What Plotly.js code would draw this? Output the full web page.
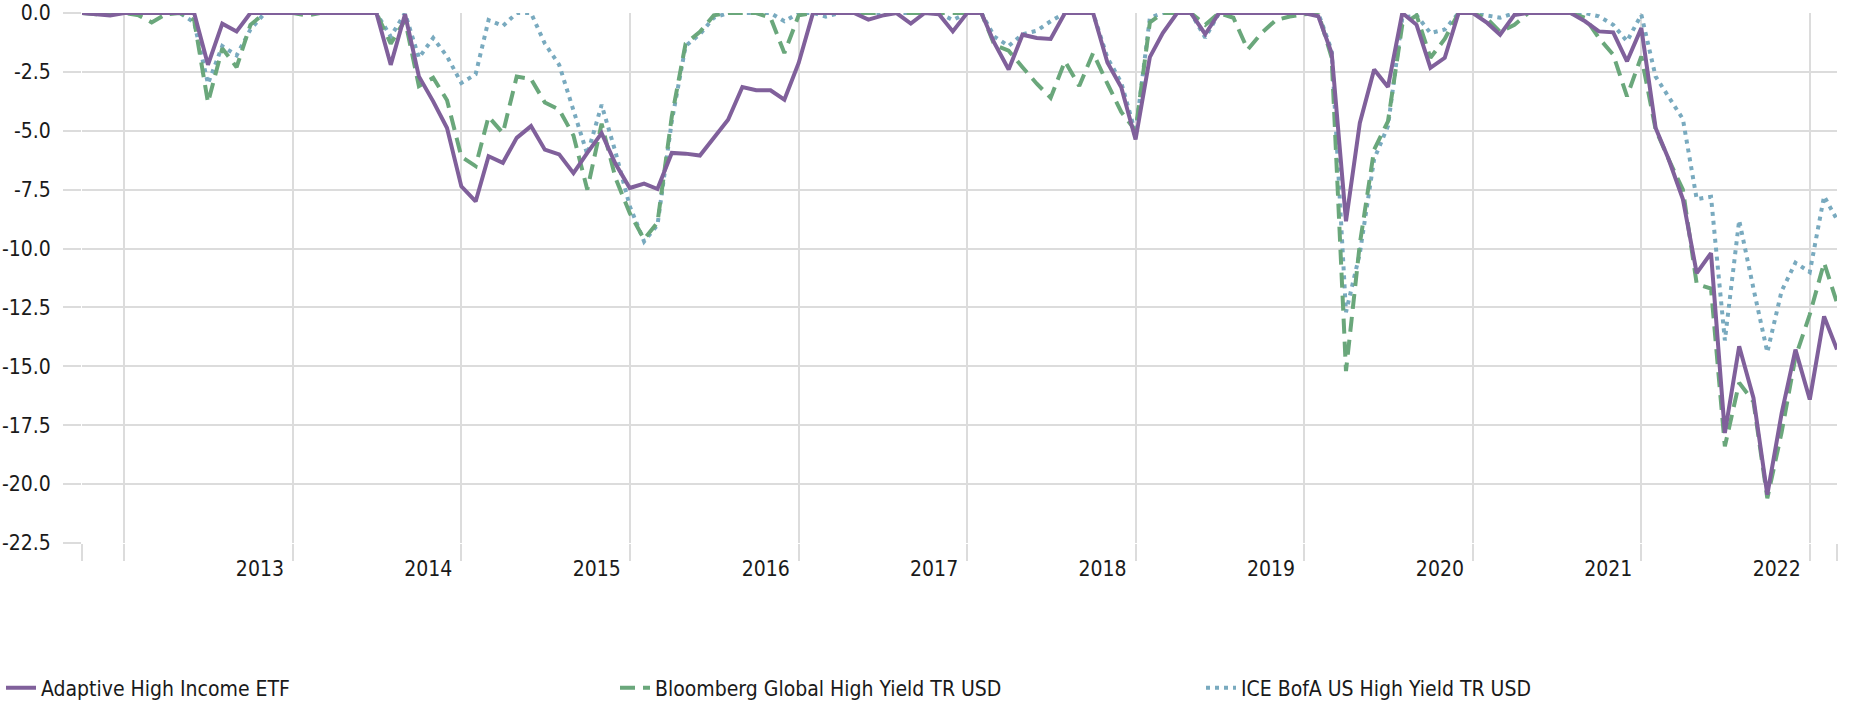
<!DOCTYPE html>
<html>
<head>
<meta charset="utf-8">
<script src="https://cdn.plot.ly/plotly-3.0.1.min.js"></script>
<style>
html,body{margin:0;padding:0;background:#fff;}
#chart{width:1849px;height:708px;}
</style>
</head>
<body>
<div id="chart"></div>
<script>
// Monthly drawdown series, Sep 2012 .. Feb 2023 (month-end)
const startYear = 2012, startMonth = 9, monthCount = 126;

const seriesNames = [
  "Adaptive High Income ETF",
  "Bloomberg Global High Yield TR USD",
  "ICE BofA US High Yield TR USD"
];

const adaptive = [
  0, -0.05, -0.1, 0,
  0, 0, 0, 0, 0, -2.2, -0.45, -0.78, 0, 0, 0, 0,
  0, 0, 0, 0, 0, 0, -2.2, -0.05, -2.69, -3.75, -4.88, -7.36,
  -8.0, -6.08, -6.36, -5.3, -4.8, -5.8, -6.0, -6.8, -5.94, -5.1, -6.4, -7.43,
  -7.24, -7.47, -5.94, -5.97, -6.05, -5.3, -4.53, -3.14, -3.28, -3.28, -3.68, -2.12,
  0, 0, 0, 0, -0.28, -0.11, 0, -0.45, 0, -0.05, -0.78, 0,
  0, -1.27, -2.4, -0.92, -1.06, -1.1, 0, 0, 0, -2.1, -3.15, -5.37,
  -1.87, -0.85, 0, 0, -0.9, 0, 0, 0, 0, 0, 0, 0,
  -0.14, -1.7, -8.84, -4.67, -2.4, -3.14, 0, -0.5, -2.33, -1.9, 0, 0,
  -0.42, -0.92, -0.08, 0, 0, 0, 0, -0.35, -0.78, -0.82, -2.05, -0.64,
  -4.88, -6.2, -7.9, -11.04, -10.19, -17.83, -14.15, -16.34, -20.45, -17.0, -14.29, -16.41,
  -12.88, -14.29
];

const bloomberg = [
  0, -0.05, 0, 0,
  -0.1, -0.4, -0.05, 0, -0.3, -3.8, -1.5, -2.3, -0.5, 0, 0, 0,
  -0.1, 0, 0, 0, 0, 0, -1.3, -0.3, -3.1, -2.75, -3.7, -6.1,
  -6.5, -4.4, -5.1, -2.7, -2.8, -3.8, -4.1, -5.2, -7.5, -4.7, -7.0, -8.5,
  -9.6, -8.9, -4.4, -1.3, -0.8, -0.1, 0, 0, 0, -0.2, -1.7, -0.1,
  0, 0, 0, 0, 0, 0, 0, 0, 0, 0, 0, 0,
  0, -1.35, -1.6, -2.3, -3.0, -3.6, -2.05, -3.1, -1.7, -3.0, -4.2, -5.0,
  -0.4, 0, 0, 0, -0.5, 0, -0.2, -1.55, -0.85, -0.3, -0.15, -0.05,
  0, -1.9, -15.2, -9.8, -5.8, -4.6, -0.5, -0.1, -1.9, -1.1, 0, 0,
  -0.25, -0.8, -0.5, 0, 0, 0, 0, -0.2, -1.06, -1.77, -3.54, -1.84,
  -4.95, -6.2, -7.5, -11.5, -11.7, -18.4, -15.7, -16.5, -20.6, -17.8, -14.6, -12.8,
  -10.6, -12.3
];

const iceBofa = [
  0, 0, 0, 0,
  0, 0, 0, 0, -0.4, -3.0, -1.4, -1.8, -0.7, 0, 0, 0,
  0, 0, 0, 0, 0, 0, -1.0, 0, -1.9, -1.06, -1.84, -2.97,
  -2.6, -0.3, -0.55, 0, 0, -1.3, -2.2, -4.1, -6.0, -3.9, -5.9, -8.2,
  -9.7, -9.0, -4.6, -1.4, -0.9, -0.2, 0, 0, 0, 0, -0.35, 0,
  0, -0.15, 0, 0, 0, 0, 0, 0, 0, 0, -0.3, 0,
  0, -1.0, -1.4, -0.9, -0.75, -0.35, 0, 0, 0, -1.9, -2.95, -5.1,
  -0.2, 0, 0, 0, -1.05, 0, 0, 0, 0, 0, 0, 0,
  0, -1.6, -12.7, -10.2, -6.2, -4.8, -0.2, -0.1, -0.85, -0.7, 0, 0,
  -0.1, -0.2, 0, 0, 0, 0, 0, 0, -0.14, -0.5, -1.2, -0.07,
  -2.7, -3.54, -4.5, -7.9, -7.8, -13.9, -8.8, -11.7, -14.4, -11.8, -10.6, -11.0,
  -7.78, -8.77
];

const yTickValues = [0, -2.5, -5, -7.5, -10, -12.5, -15, -17.5, -20, -22.5];
const yTickLabels = ["0.0", "-2.5", "-5.0", "-7.5", "-10.0", "-12.5", "-15.0", "-17.5", "-20.0", "-22.5"];
const yearTickLabels = ["", "2013", "2014", "2015", "2016", "2017", "2018", "2019", "2020", "2021", "2022"];
const yearTickYears  = [2012, 2013, 2014, 2015, 2016, 2017, 2018, 2019, 2020, 2021, 2022];

function pad(n){ return (n < 10 ? "0" : "") + n; }
function monthEnd(y, m){ // m: 1..12
  const d = new Date(Date.UTC(y, m, 0));
  return d.getUTCFullYear() + "-" + pad(d.getUTCMonth() + 1) + "-" + pad(d.getUTCDate());
}
const dates = [];
for (let k = 0; k < monthCount; k++) {
  const mm = startMonth - 1 + k;
  dates.push(monthEnd(startYear + Math.floor(mm / 12), (mm % 12) + 1));
}

const FONT = "'DejaVu Sans Condensed', 'Liberation Sans Narrow', 'Arial Narrow', sans-serif";
const FS = 21;
const GRID = "#dcdcdc";
const TEXT = "#1a1a1a";

const tickvals = [dates[0]].concat(yearTickYears.map(y => y + "-12-31")).concat([dates[dates.length - 1]]);
const ticktext = [""].concat(yearTickLabels).concat([""]);

const traces = [
  {
    x: dates, y: iceBofa, name: seriesNames[2], type: "scatter", mode: "lines",
    line: {color: "#79aabf", width: 4, dash: "4px,5px"},
    legend: "legend3", cliponaxis: false, hoverinfo: "skip"
  },
  {
    x: dates, y: bloomberg, name: seriesNames[1], type: "scatter", mode: "lines",
    line: {color: "#6aa77b", width: 4, dash: "15px,8px"},
    legend: "legend2", cliponaxis: false, hoverinfo: "skip"
  },
  {
    x: dates, y: adaptive, name: seriesNames[0], type: "scatter", mode: "lines",
    line: {color: "#80609b", width: 4},
    legend: "legend", cliponaxis: false, hoverinfo: "skip"
  }
];

const legendBase = {
  xref: "container", yref: "container", yanchor: "middle", xanchor: "left",
  y: 0.028, orientation: "h", bgcolor: "rgba(0,0,0,0)",
  font: {family: FONT, size: FS, color: TEXT}
};

const layout = {
  width: 1849, height: 708,
  margin: {l: 82, r: 12, t: 13, b: 165, pad: 0},
  paper_bgcolor: "#ffffff", plot_bgcolor: "#ffffff",
  font: {family: FONT, size: FS, color: TEXT},
  showlegend: true,
  legend:  Object.assign({}, legendBase, {x: 1 / 1849}),
  legend2: Object.assign({}, legendBase, {x: 615 / 1849}),
  legend3: Object.assign({}, legendBase, {x: 1201 / 1849}),
  xaxis: {
    type: "date",
    range: [dates[0], dates[dates.length - 1]],
    tickmode: "array", tickvals: tickvals, ticktext: ticktext,
    ticks: "outside", ticklen: 17, tickwidth: 2, tickcolor: GRID,
    showgrid: true, gridcolor: GRID, gridwidth: 2,
    zeroline: false, showline: false,
    ticklabelshift: -33, ticklabelstandoff: -10,
    tickfont: {family: FONT, size: FS, color: TEXT},
    fixedrange: true
  },
  yaxis: {
    range: [-22.5, 0.001],
    tickmode: "array", tickvals: yTickValues, ticktext: yTickLabels,
    ticks: "outside", ticklen: 18, tickwidth: 2, tickcolor: GRID,
    showgrid: true, gridcolor: GRID, gridwidth: 2,
    zeroline: false, showline: false,
    ticklabelstandoff: 8,
    tickfont: {family: FONT, size: FS, color: TEXT},
    fixedrange: true
  }
};

Plotly.newPlot("chart", traces, layout, {displayModeBar: false, staticPlot: true});
</script>
</body>
</html>
